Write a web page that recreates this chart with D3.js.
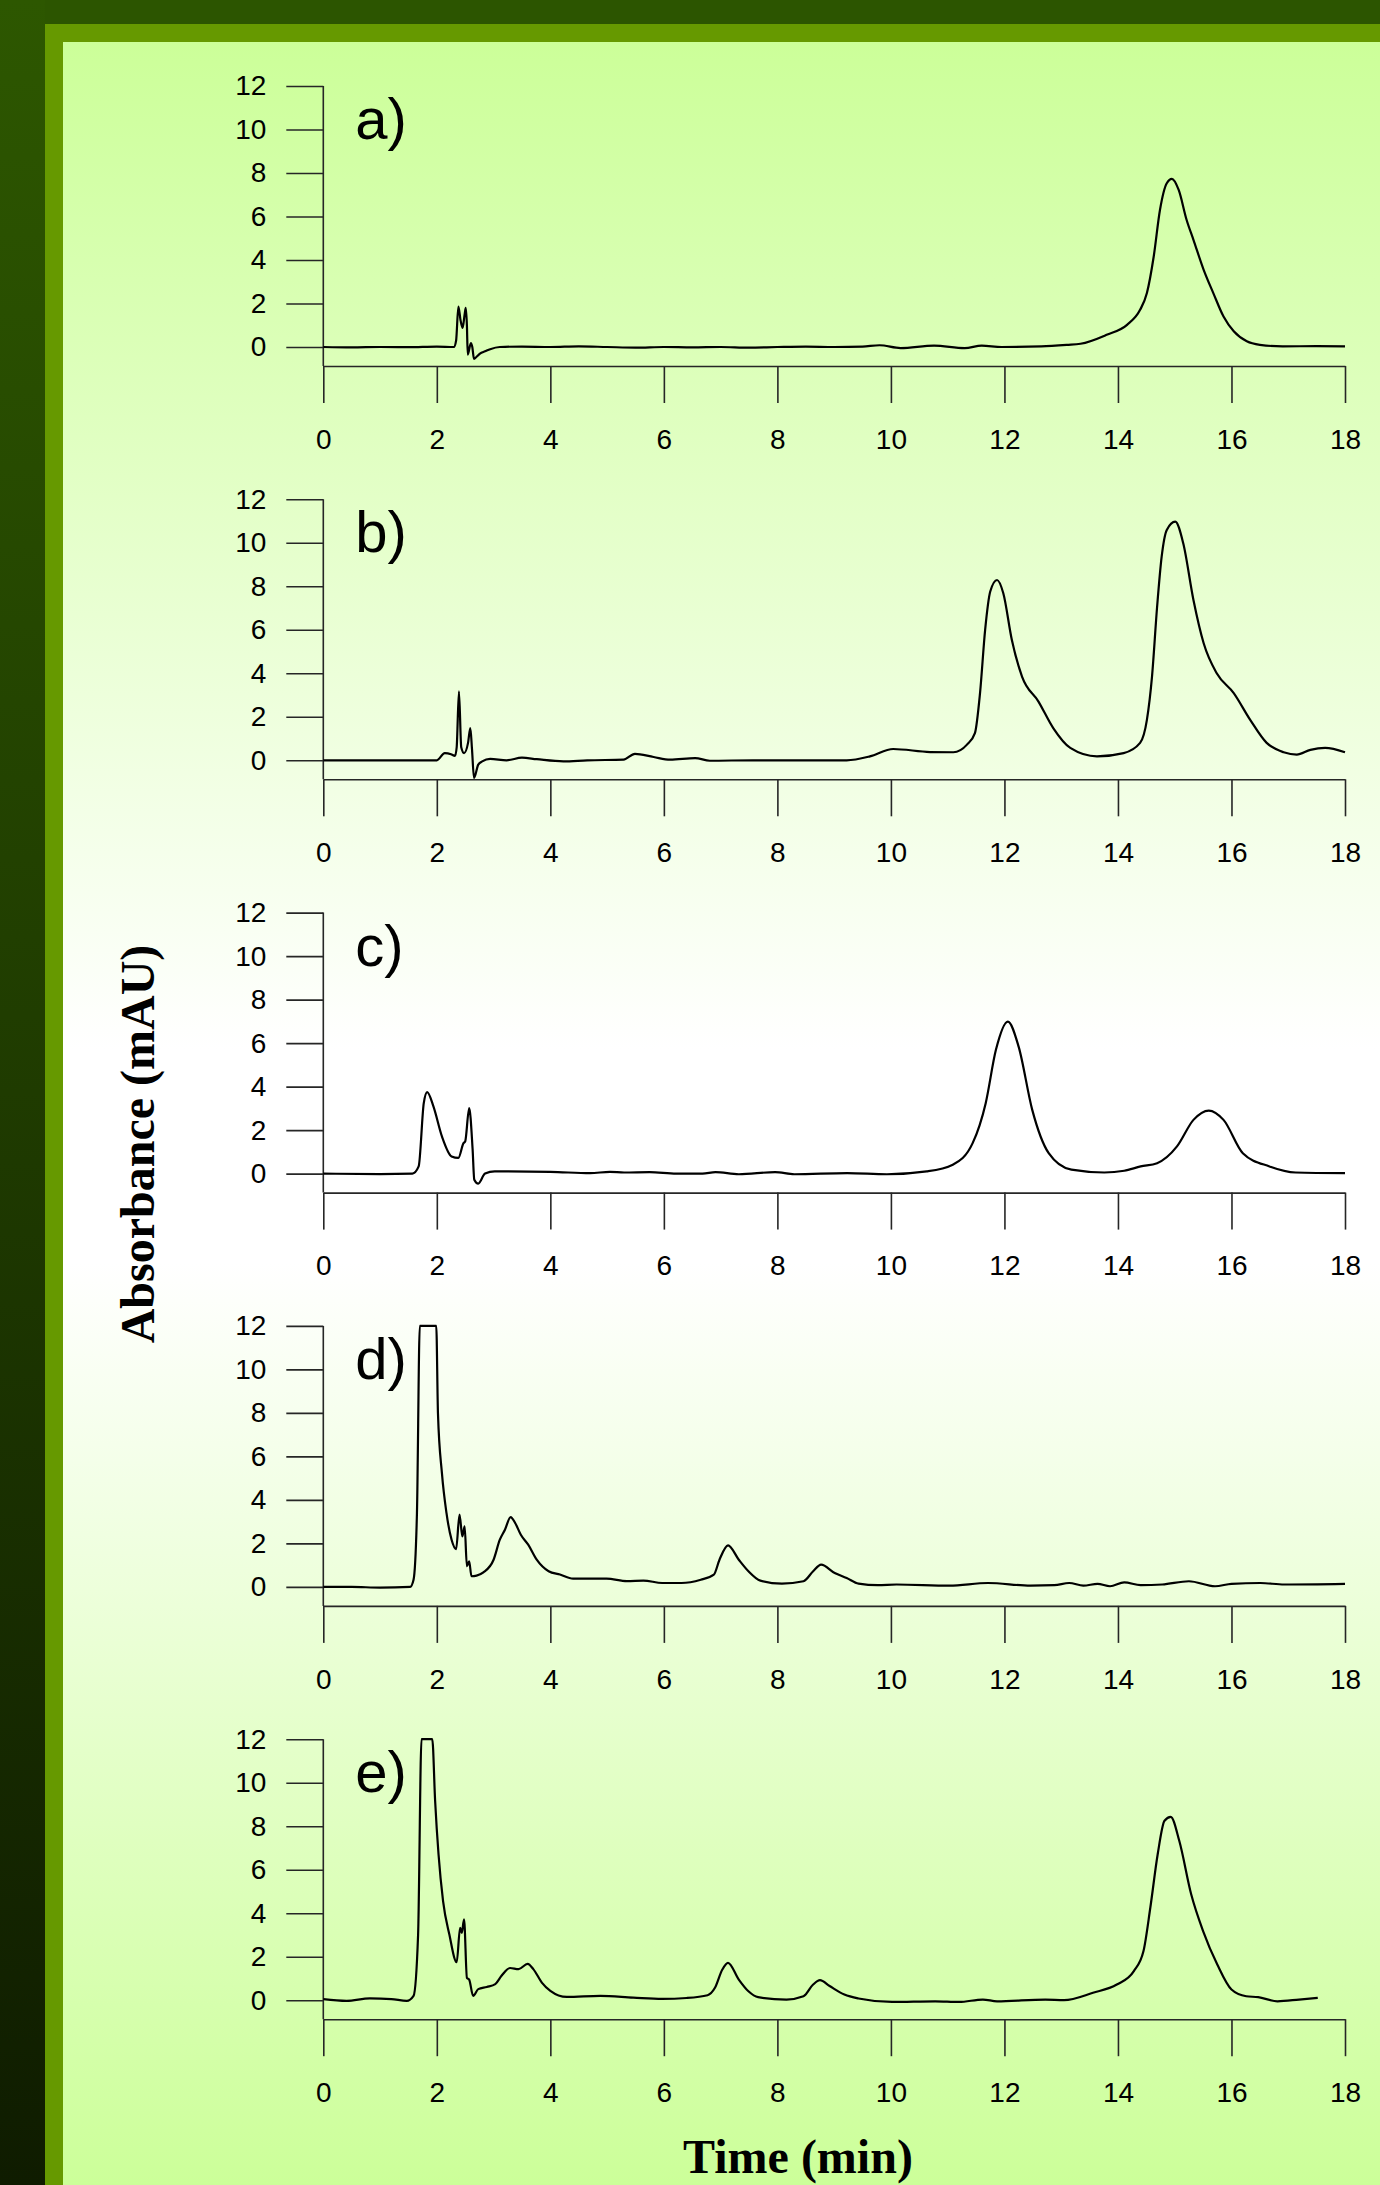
<!DOCTYPE html>
<html>
<head>
<meta charset="utf-8">
<script src="https://cdn.jsdelivr.net/npm/d3@7"></script>
<style>
html,body{margin:0;padding:0;background:#2c5500;}
svg{display:block;}
</style>
</head>
<body>
<svg id="chart" width="1380" height="2185"></svg>
<script>
// ---------- data ----------
const timeTicks = [0, 2, 4, 6, 8, 10, 12, 14, 16, 18];
const absTicks = [0, 2, 4, 6, 8, 10, 12];
const panelLabels = ["a)", "b)", "c)", "d)", "e)"];
const xTitle = "Time (min)";
const yTitle = "Absorbance (mAU)";

const traceA = [[0,0],[0.5,-0.02],[1,0],[1.5,-0.01],[2,0.02],[2.3,0],[2.34,0.3],[2.38,1.86],[2.42,1.2],[2.455,0.88],[2.49,1.5],[2.51,1.8],[2.53,1.0],[2.545,-0.35],[2.6,0.18],[2.625,0],[2.655,-0.55],[2.7,-0.45],[2.76,-0.3],[2.85,-0.2],[2.94,-0.1],[3.11,0],[3.5,0.02],[4,0],[4.5,0.03],[5,0],[5.5,-0.03],[6,0],[6.5,-0.02],[7,0],[7.5,-0.03],[8,0],[8.5,0.02],[9,0],[9.5,0.02],[9.8,0.08],[10.17,-0.05],[10.76,0.06],[11.3,-0.05],[11.6,0.06],[11.95,0],[12.65,0.03],[13.1,0.1],[13.34,0.15],[13.8,0.56],[14.16,1.02],[14.39,1.71],[14.51,2.48],[14.63,4.16],[14.74,6.3],[14.86,7.53],[14.95,7.73],[15.07,7.22],[15.21,5.84],[15.33,4.93],[15.51,3.55],[15.68,2.48],[15.86,1.4],[16.04,0.72],[16.27,0.26],[16.5,0.1],[16.9,0.03],[17.5,0.04],[18,0.03]];

const traceB = [[0,0],[1,0],[2,0],[2.14,0.33],[2.25,0.28],[2.32,0.2],[2.35,0.6],[2.39,3.17],[2.43,0.6],[2.48,0.33],[2.55,0.8],[2.59,1.48],[2.62,0.5],[2.655,-0.81],[2.73,-0.2],[2.8,-0.05],[2.94,0.07],[3.23,0],[3.5,0.12],[3.76,0.05],[4.23,-0.05],[4.65,0],[5.29,0.03],[5.49,0.3],[5.82,0.15],[6.11,0.03],[6.55,0.1],[6.81,-0.02],[7.57,0],[8.5,0],[9.22,0],[9.63,0.18],[10.04,0.52],[10.69,0.38],[11.1,0.37],[11.34,0.72],[11.48,1.25],[11.57,3.09],[11.66,6.0],[11.75,7.76],[11.87,8.29],[11.98,7.68],[12.13,5.54],[12.31,3.85],[12.6,2.7],[12.86,1.48],[13.16,0.57],[13.63,0.18],[14.1,0.33],[14.39,0.8],[14.51,1.86],[14.6,3.85],[14.69,7.07],[14.77,9.36],[14.86,10.59],[15.01,10.97],[15.15,9.98],[15.33,7.37],[15.51,5.38],[15.74,4.0],[16.04,3.09],[16.33,1.86],[16.62,0.8],[16.92,0.37],[17.15,0.26],[17.39,0.48],[17.65,0.57],[18,0.37]];

const traceC = [[0,0],[1,-0.02],[1.57,0],[1.68,0.33],[1.77,3.24],[1.83,3.75],[1.94,3.09],[2.09,1.71],[2.26,0.79],[2.38,0.72],[2.47,1.4],[2.5,1.48],[2.57,3.01],[2.63,1.14],[2.66,-0.28],[2.73,-0.46],[2.85,0],[3.02,0.1],[4.0,0.08],[4.7,0.02],[5.05,0.08],[5.3,0.05],[5.75,0.07],[6.22,0],[6.68,0],[6.91,0.07],[7.32,-0.03],[7.96,0.07],[8.3,-0.03],[9.23,0.02],[9.93,-0.03],[10.63,0.1],[11.09,0.41],[11.44,1.4],[11.67,3.24],[11.85,5.69],[12.06,6.99],[12.25,5.84],[12.49,2.93],[12.78,0.94],[13.18,0.18],[13.76,0.05],[14.11,0.13],[14.4,0.33],[14.69,0.48],[15.04,1.25],[15.33,2.47],[15.6,2.9],[15.86,2.47],[16.2,0.94],[16.67,0.33],[17.13,0.05],[18,0.02]];

const traceD = [[0,0],[0.5,0],[1,-0.03],[1.53,0],[1.59,0.33],[1.65,3.4],[1.70,12],[1.99,12],[2.02,7.99],[2.09,5.23],[2.17,3.4],[2.26,2.17],[2.34,1.74],[2.40,3.32],[2.45,2.32],[2.49,2.78],[2.53,0.95],[2.57,1.18],[2.61,0.49],[2.70,0.52],[2.82,0.67],[3.0,1.25],[3.11,2.17],[3.2,2.63],[3.3,3.21],[3.38,2.94],[3.48,2.4],[3.61,1.94],[3.76,1.25],[3.97,0.72],[4.17,0.57],[4.4,0.38],[4.99,0.38],[5.35,0.27],[5.64,0.29],[5.97,0.18],[6.31,0.18],[6.65,0.33],[6.88,0.56],[6.98,1.25],[7.13,1.91],[7.32,1.25],[7.49,0.72],[7.7,0.29],[8.08,0.15],[8.46,0.26],[8.63,0.72],[8.77,1.02],[9.01,0.64],[9.22,0.41],[9.43,0.15],[9.77,0.08],[10.1,0.11],[11.03,0.06],[11.71,0.18],[12.46,0.06],[12.88,0.08],[13.14,0.18],[13.39,0.06],[13.64,0.14],[13.86,0.03],[14.11,0.21],[14.4,0.08],[14.78,0.11],[15.25,0.26],[15.71,0.03],[16.0,0.14],[16.51,0.18],[16.93,0.11],[18,0.14]];

const traceE = [[0,0.05],[0.41,-0.03],[0.82,0.08],[1.2,0.05],[1.47,-0.03],[1.59,0.2],[1.67,3.0],[1.73,12],[1.92,12],[1.97,9.17],[2.03,6.71],[2.11,4.56],[2.22,3.03],[2.35,1.75],[2.41,3.33],[2.44,3.1],[2.48,3.72],[2.53,1.03],[2.57,0.95],[2.64,0.2],[2.73,0.51],[2.88,0.61],[3.03,0.74],[3.14,1.12],[3.29,1.48],[3.44,1.43],[3.6,1.67],[3.7,1.43],[3.85,0.81],[4.0,0.43],[4.29,0.15],[4.88,0.2],[5.46,0.12],[5.97,0.06],[6.4,0.1],[6.77,0.23],[6.9,0.57],[7.03,1.41],[7.13,1.72],[7.32,0.95],[7.49,0.41],[7.66,0.14],[8.16,0.03],[8.46,0.18],[8.63,0.72],[8.75,0.92],[8.92,0.65],[9.18,0.26],[9.43,0.08],[10.02,-0.08],[10.78,-0.05],[11.2,-0.08],[11.62,0.03],[11.87,-0.05],[12.72,0.03],[13.05,0],[13.56,0.34],[13.98,0.72],[14.28,1.34],[14.45,2.26],[14.57,4.25],[14.7,6.71],[14.82,8.25],[14.93,8.43],[15.08,7.33],[15.29,4.87],[15.5,3.18],[15.75,1.64],[16.0,0.49],[16.26,0.18],[16.47,0.14],[16.81,-0.05],[17.19,0.03],[17.52,0.11]];

const traces = [traceA, traceB, traceC, traceD, traceE];

// ---------- layout ----------
const W = 1380, H = 2185;
const svg = d3.select("#chart");
const defs = svg.append("defs");

const gLeft = defs.append("linearGradient").attr("id", "leftGrad")
  .attr("x1", 0).attr("y1", 0).attr("x2", 0).attr("y2", 1);
gLeft.append("stop").attr("offset", 0).attr("stop-color", "#2d5700");
gLeft.append("stop").attr("offset", 0.5).attr("stop-color", "#1f3b00");
gLeft.append("stop").attr("offset", 1).attr("stop-color", "#0f1c00");

const gIn = defs.append("linearGradient").attr("id", "innerGrad")
  .attr("x1", 0).attr("y1", 0).attr("x2", 0).attr("y2", 1);
gIn.append("stop").attr("offset", 0).attr("stop-color", "#ccff99");
gIn.append("stop").attr("offset", 0.47).attr("stop-color", "#ffffff");
gIn.append("stop").attr("offset", 0.57).attr("stop-color", "#ffffff");
gIn.append("stop").attr("offset", 1).attr("stop-color", "#ccff99");

svg.append("rect").attr("x", 0).attr("y", 0).attr("width", W).attr("height", H).attr("fill", "#2c5500");
svg.append("rect").attr("x", 0).attr("y", 0).attr("width", 45).attr("height", H).attr("fill", "url(#leftGrad)");
svg.append("rect").attr("x", 45).attr("y", 24).attr("width", W - 45).attr("height", H - 24).attr("fill", "#669900");
svg.append("rect").attr("x", 63).attr("y", 42).attr("width", W - 63).attr("height", H - 42).attr("fill", "url(#innerGrad)");

const x = d3.scaleLinear().domain([0, 18]).range([323.3, 1345]);
const panelTop0 = 86, panelStep = 413.3, plotH = 261;
const axisGap = 19, tickLen = 37;
const axisColor = "#262626";

traces.forEach((data, i) => {
  const top = panelTop0 + i * panelStep;
  const y = d3.scaleLinear().domain([0, 12]).range([top + plotH, top]);
  const g = svg.append("g");
  const xAxisY = y(0) + axisGap;

  // y axis
  const ya = g.append("g").attr("transform", `translate(${x(0)},0)`)
    .call(d3.axisLeft(y).tickValues(absTicks).tickSize(tickLen).tickPadding(20).tickSizeOuter(0));
  ya.select(".domain").remove();
  ya.selectAll(".tick line").attr("stroke", axisColor).attr("stroke-width", 1.6);
  ya.selectAll(".tick text").attr("font-family", "'Liberation Sans', Arial, sans-serif")
    .attr("font-size", 28).attr("fill", "#000");
  g.append("line").attr("x1", x(0)).attr("x2", x(0)).attr("y1", y(12)).attr("y2", xAxisY)
    .attr("stroke", axisColor).attr("stroke-width", 1.6);

  // x axis
  const xa = g.append("g").attr("transform", `translate(0,${xAxisY})`)
    .call(d3.axisBottom(x).tickValues(timeTicks).tickSize(tickLen).tickPadding(26).tickSizeOuter(0));
  xa.select(".domain").attr("stroke", axisColor).attr("stroke-width", 1.6);
  xa.selectAll(".tick line").attr("stroke", axisColor).attr("stroke-width", 1.6);
  xa.selectAll(".tick text").attr("font-family", "'Liberation Sans', Arial, sans-serif")
    .attr("font-size", 28).attr("fill", "#000");

  // trace
  const line = d3.line().x(d => x(d[0])).y(d => y(d[1])).curve(d3.curveMonotoneX);
  g.append("path").datum(data).attr("d", line).attr("fill", "none")
    .attr("stroke", "#000").attr("stroke-width", 2.2).attr("stroke-linejoin", "round");

  // panel label
  g.append("text").attr("x", x(0) + 32).attr("y", y(12) + 53)
    .attr("font-family", "'Liberation Sans', Arial, sans-serif").attr("font-size", 58)
    .attr("fill", "#000").text(panelLabels[i]);
});

// axis titles
svg.append("text").attr("x", 798).attr("y", 2173).attr("text-anchor", "middle")
  .attr("font-family", "'Liberation Serif', 'Times New Roman', serif").attr("font-weight", "bold")
  .attr("font-size", 48).attr("fill", "#000").text(xTitle);
svg.append("text").attr("transform", "translate(154,1144) rotate(-90)").attr("text-anchor", "middle")
  .attr("font-family", "'Liberation Serif', 'Times New Roman', serif").attr("font-weight", "bold")
  .attr("font-size", 48).attr("fill", "#000").text(yTitle);
</script>
</body>
</html>
